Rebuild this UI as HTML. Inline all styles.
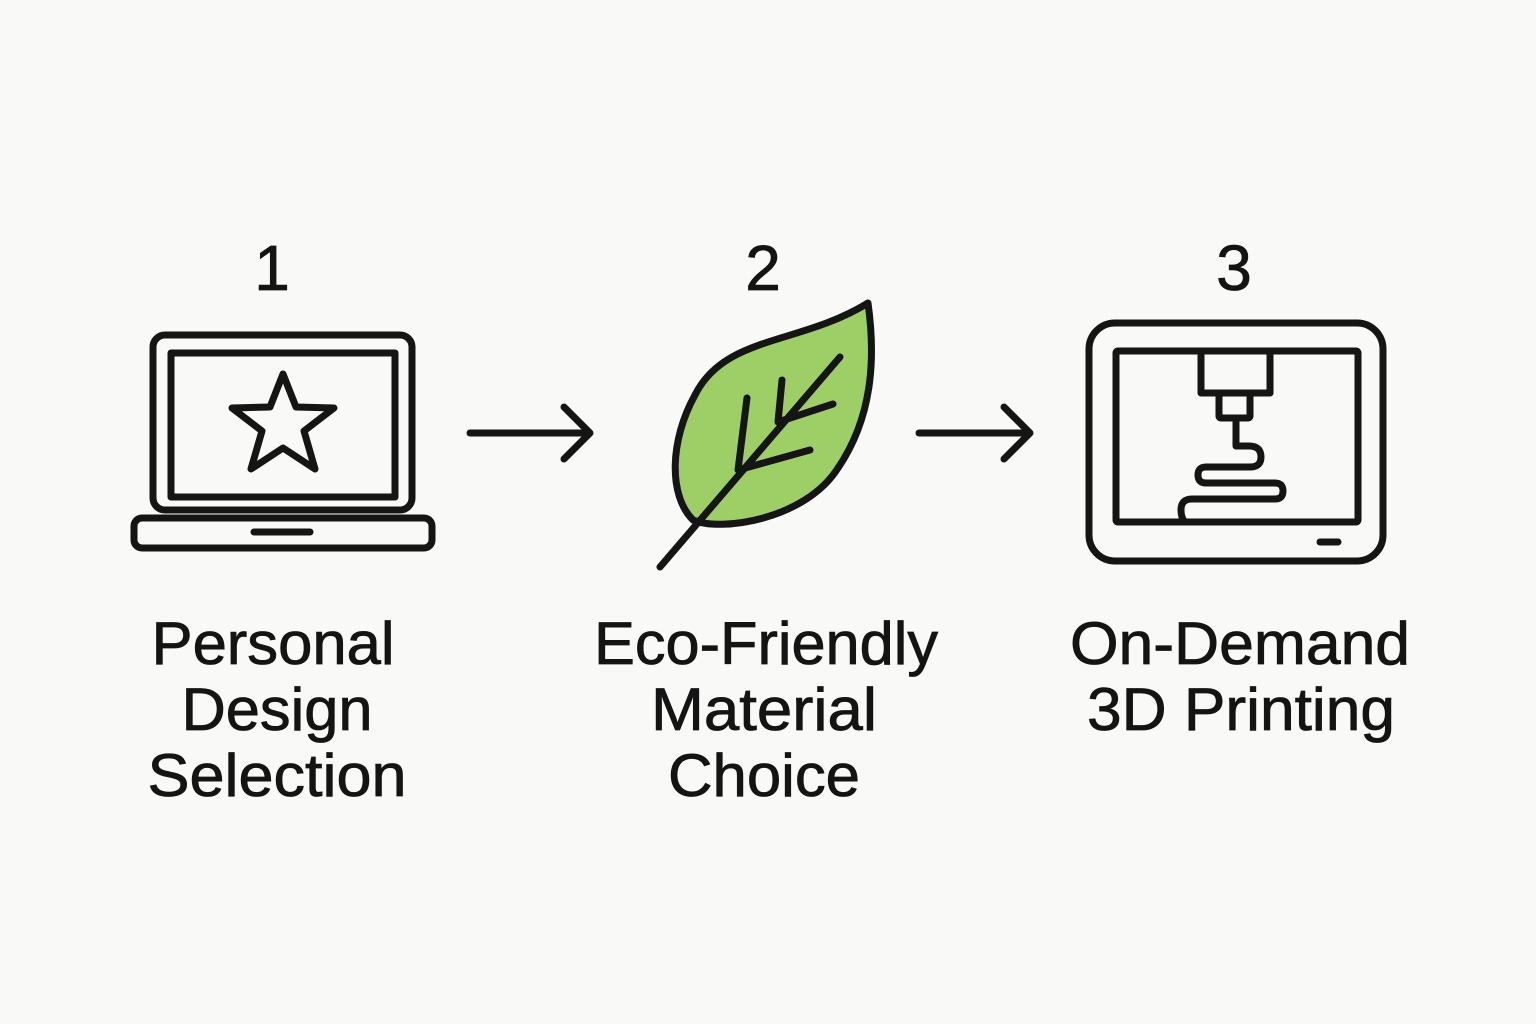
<!DOCTYPE html>
<html><head><style>
body{margin:0;background:#f9f9f7;}
svg{display:block}
text{font-family:"Liberation Sans",sans-serif;fill:#141414;text-anchor:middle;stroke:#141414;stroke-width:0.8}
</style></head><body>
<svg width="1536" height="1024" viewBox="0 0 1536 1024">
<rect width="1536" height="1024" fill="#f9f9f7"/>
<g font-size="64" style="stroke-width:2">
<text x="272" y="290">1</text>
<text x="763" y="290">2</text>
<text x="1234" y="290">3</text>
</g>
<g fill="none" stroke="#151515" stroke-width="7" stroke-linecap="round" stroke-linejoin="round">
<rect x="153" y="335" width="259" height="175" rx="12"/>
<rect x="171" y="353" width="224" height="144"/>
<rect x="134" y="518" width="298" height="30" rx="8"/>
<line x1="254" y1="532" x2="310" y2="532"/>
<path d="M283,374 L296,407 L334,408 L304,431 L315,469 L283,448 L251,469 L262,431 L232,408 L270,407 Z"/>
<path d="M470,433 H590 M564,407 L590,433 L564,459"/>
<path d="M919,433 H1030 M1004,407 L1030,433 L1004,459"/>
<path d="M868,303 C800,345 725,335 695,395 C670,440 668,495 693,520 C720,532 805,520 838,468 C872,418 876,360 868,303 Z" fill="#9ecf66"/>
<path d="M660,567 L840,357 M738,470 L747,398 M738,470 L810,450 M778,422 L782,380 M778,422 L833,404"/>
<rect x="1089" y="323" width="294" height="238" rx="26"/>
<rect x="1116" y="351" width="242" height="171" rx="2"/>
<path d="M1201,351 V393 H1270 V351"/>
<rect x="1219" y="393" width="31" height="25" rx="2"/>
<path d="M1236,418 V446 H1249 Q1261,446 1261,457 Q1261,467 1250,467 H1206 Q1198,467 1198,475 Q1198,483 1206,483 H1275 Q1283,483 1283,491 Q1283,499 1275,499 H1192 Q1181,499 1181,510 Q1181,518 1185,522"/>
<line x1="1320" y1="542" x2="1338" y2="542"/>
</g>
<g font-size="60">
<text x="273" y="664" textLength="243" lengthAdjust="spacingAndGlyphs">Personal</text>
<text x="277" y="730" textLength="191" lengthAdjust="spacingAndGlyphs">Design</text>
<text x="277" y="796" textLength="259" lengthAdjust="spacingAndGlyphs">Selection</text>
<text x="766" y="664" textLength="344" lengthAdjust="spacingAndGlyphs">Eco-Friendly</text>
<text x="764" y="730" textLength="226" lengthAdjust="spacingAndGlyphs">Material</text>
<text x="764" y="796" textLength="192" lengthAdjust="spacingAndGlyphs">Choice</text>
<text x="1240" y="664" textLength="340" lengthAdjust="spacingAndGlyphs">On-Demand</text>
<text x="1241" y="730" textLength="308" lengthAdjust="spacingAndGlyphs">3D Printing</text>
</g>
</svg>
</body></html>
